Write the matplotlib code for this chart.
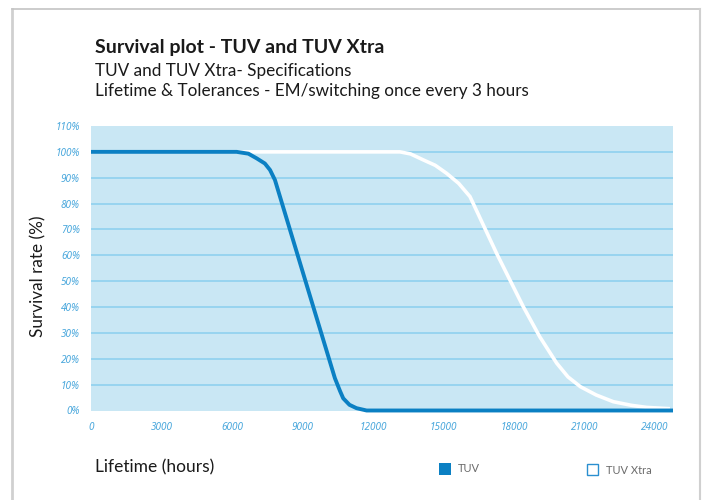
import matplotlib
matplotlib.use("Agg")
import matplotlib.pyplot as plt
from matplotlib.patches import Rectangle
from matplotlib.lines import Line2D

# values
tuv_hours = [0, 6200, 6700, 7050, 7400, 7620, 7830, 9030, 10380, 10600, 10735,
             11000, 11300, 11730, 24770]
tuv_survival = [100, 100, 99.3, 97.5, 95.5, 93, 89.1, 53, 12.5, 7.5, 4.7,
                2.2, 0.9, 0, 0]

xtra_hours = [0, 13150, 13600, 14140, 14650, 15135, 15650, 16130, 17260, 18400,
              19100, 19820, 20300, 20830, 21500, 22230, 23000, 23650, 24640]
xtra_survival = [100, 100, 99.2, 96.9, 94.8, 91.7, 87.8, 82.7, 60.8, 40.1,
                 28.5, 18.3, 13, 9.2, 6, 3.4, 2, 1.2, 0.7]

x_ticks = [0, 3000, 6000, 9000, 12000, 15000, 18000, 21000, 24000]
y_ticks = [0, 10, 20, 30, 40, 50, 60, 70, 80, 90, 100, 110]

title = "Survival plot - TUV and TUV Xtra"
subtitle_1 = "TUV and TUV Xtra- Specifications"
subtitle_2 = "Lifetime & Tolerances - EM/switching once every 3 hours"

BG = "#c9e7f4"
GRID = "#8fd1ef"
BLUE = "#0b80c3"
TICK = "#49a7dc"
TEXT_FONT = ["Lato", "DejaVu Sans"]
TICK_FONT = ["Noto Sans", "DejaVu Sans"]

fig = plt.figure(figsize=(7.05, 5.0), dpi=100)

# light grey frame (open at the bottom)
fig.add_artist(Line2D([12 / 705, 12 / 705], [0, 1 - 9 / 500], transform=fig.transFigure,
                      color="#d0d0d0", lw=2))
fig.add_artist(Line2D([12 / 705, 700 / 705], [1 - 9 / 500, 1 - 9 / 500],
                      transform=fig.transFigure, color="#c4c4c4", lw=1.2))
fig.add_artist(Line2D([700 / 705, 700 / 705], [0, 1 - 9 / 500], transform=fig.transFigure,
                      color="#d0d0d0", lw=1.5))

ax = fig.add_axes([91 / 705, 1 - 410.5 / 500, 582 / 705, (410.5 - 126) / 500])
ax.set_facecolor(BG)
ax.set_xlim(0, 24770)
ax.set_ylim(0, 110)
for s in ax.spines.values():
    s.set_visible(False)

for yv in y_ticks[1:-1]:
    ax.axhline(yv, color=GRID, lw=1.2, zorder=1)

ax.plot(xtra_hours, xtra_survival, color="white", lw=2.6, zorder=3,
        solid_capstyle="butt", solid_joinstyle="round", clip_on=False)
ax.plot(tuv_hours, tuv_survival, color=BLUE, lw=2.8, zorder=4,
        solid_capstyle="butt", solid_joinstyle="round", clip_on=False)

ax.set_xticks(x_ticks)
ax.set_xticklabels([str(v) for v in x_ticks])
ax.set_yticks(y_ticks)
ax.set_yticklabels([f"{v}%" for v in y_ticks])
ax.tick_params(length=0, colors=TICK, labelsize=7.2)
ax.tick_params(axis="x", pad=8)
ax.tick_params(axis="y", pad=8)
for lab in ax.get_xticklabels() + ax.get_yticklabels():
    lab.set_fontstyle("italic")
    lab.set_family(TICK_FONT)

fig.text(95 / 705, 1 - 48 / 500, title, fontsize=14, fontweight="bold",
         family=TEXT_FONT, va="center", ha="left", color="#1a1a1a")
fig.text(95 / 705, 1 - 71 / 500, subtitle_1, fontsize=12.3, family=TEXT_FONT,
         va="center", ha="left", color="#1a1a1a")
fig.text(95 / 705, 1 - 91 / 500, subtitle_2, fontsize=12.3, family=TEXT_FONT,
         va="center", ha="left", color="#1a1a1a")

fig.text(38 / 705, 1 - 276 / 500, "Survival rate (%)", fontsize=12.3, rotation=90,
         family=TEXT_FONT, va="center", ha="center", color="#1a1a1a")
fig.text(95 / 705, 1 - 467 / 500, "Lifetime (hours)", fontsize=12.5, family=TEXT_FONT,
         va="center", ha="left", color="#1a1a1a")

# legend
fig.add_artist(Rectangle((439 / 705, 1 - 475 / 500), 12 / 705, 12 / 500,
                         transform=fig.transFigure, facecolor=BLUE, edgecolor="none"))
fig.text(458 / 705, 1 - 469 / 500, "TUV", fontsize=8, family=TEXT_FONT,
         va="center", ha="left", color="#6b6b6b")
fig.add_artist(Rectangle((586.5 / 705, 1 - 475 / 500), 11 / 705, 11.5 / 500,
                         transform=fig.transFigure, facecolor="white",
                         edgecolor="#2a8fd0", lw=1))
fig.text(606 / 705, 1 - 470 / 500, "TUV Xtra", fontsize=8, family=TEXT_FONT,
         va="center", ha="left", color="#6b6b6b")

fig.savefig("out.png", dpi=100, facecolor="white")
